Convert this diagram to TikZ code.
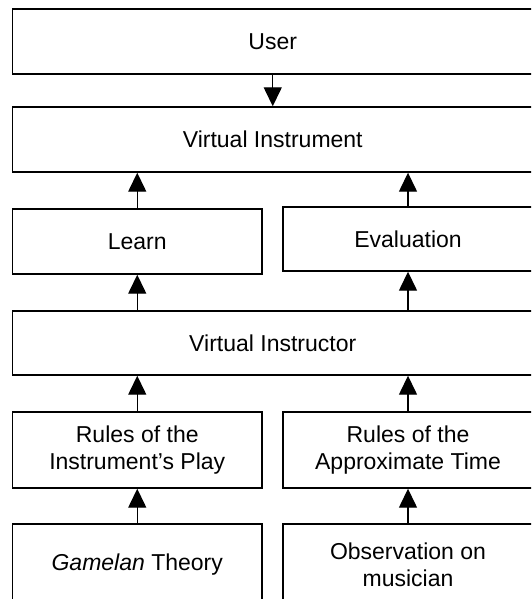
\documentclass[tikz,border=0pt]{standalone}
\usepackage{fontspec}
\setmainfont{Liberation Sans}
\usetikzlibrary{arrows.meta}
\begin{document}
\begin{tikzpicture}[x=1pt,y=-1pt,
  box/.style={draw=black,line width=1.4pt,fill=white,rectangle,inner sep=0pt,
    align=center,font=\fontsize{23}{27}\selectfont,text=black},
  conn/.style={line width=1.4pt,-{Triangle[width=18pt,length=19pt]}}]
\useasboundingbox (0,0) rectangle (531,599);
\clip (0,0) rectangle (531,599);
\fill[white] (0,0) rectangle (531,599);
\node[box,minimum width=520.5pt,minimum height=65pt] (user) at (272.75,41.5) {User};
\node[box,minimum width=520.5pt,minimum height=65pt] (vinst) at (272.75,139.5) {Virtual Instrument};
\node[box,minimum width=249.5pt,minimum height=65pt] (learn) at (137.25,241.5) {Learn};
\node[box,minimum width=250pt,minimum height=64pt] (eval) at (408,239) {Evaluation};
\node[box,minimum width=520.5pt,minimum height=64pt] (vinstr) at (272.75,343) {Virtual Instructor};
\node[box,minimum width=249.5pt,minimum height=76pt] (rplay) at (137.25,450) {Rules of the\\Instrument’s Play};
\node[box,minimum width=250pt,minimum height=76pt] (rtime) at (408,450) {Rules of the\\Approximate Time};
\node[box,minimum width=249.5pt,minimum height=82pt] (gtheory) at (137.25,565) {\textit{Gamelan} Theory};
\node[box,minimum width=250pt,minimum height=82pt] (obs) at (408,565) {Observation on\\musician};
\draw[conn] (user.south) -- (vinst.north);
\draw[conn] (learn.north) -- (learn.north |- vinst.south);
\draw[conn] (eval.north) -- (eval.north |- vinst.south);
\draw[conn] (learn.south |- vinstr.north) -- (learn.south);
\draw[conn] (eval.south |- vinstr.north) -- (eval.south);
\draw[conn] (rplay.north) -- (rplay.north |- vinstr.south);
\draw[conn] (rtime.north) -- (rtime.north |- vinstr.south);
\draw[conn] (gtheory.north) -- (rplay.south);
\draw[conn] (obs.north) -- (rtime.south);
\end{tikzpicture}
\end{document}
